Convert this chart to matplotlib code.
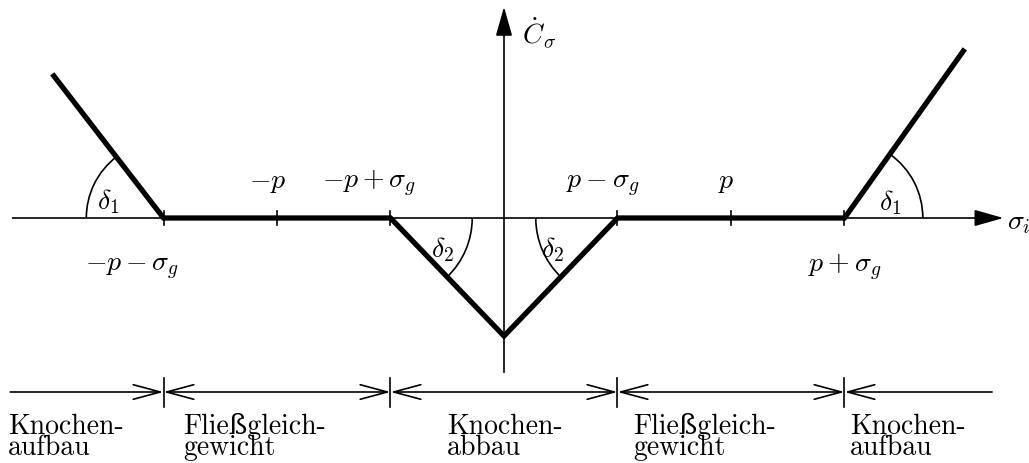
import numpy as np
import matplotlib.pyplot as plt
from matplotlib.patches import Arc

plt.rcParams['mathtext.fontset'] = 'cm'

# model parameters (in plot units)
p = 2.0
sigma_g = 1.0

# piecewise-linear remodelling rate
curve_x = [-3.98, -3.0, -1.0, 0.0, 1.0, 3.0, 4.06]
curve_y = [1.27, 0.0, 0.0, -1.04, 0.0, 0.0, 1.49]

# ticks on the stress axis and their labels
tick_pos = [-p - sigma_g, -p, -p + sigma_g, p - sigma_g, p, p + sigma_g]
tick_labels = [r'$-p-\sigma_g$', r'$-p$', r'$-p+\sigma_g$',
               r'$p-\sigma_g$', r'$p$', r'$p+\sigma_g$']
tick_label_xy = [(-3.28, -0.46), (-2.08, 0.27), (-1.19, 0.27),
                 (0.87, 0.27), (1.96, 0.27), (3.00, -0.47)]

# zones below the diagram
zone_bounds = [-3.0, -1.0, 1.0, 3.0]
zone_line = [-4.35, 4.30]
zone_text = ['Knochen-\naufbau', 'Fließgleich-\ngewicht', 'Knochen-\nabbau',
             'Fließgleich-\ngewicht', 'Knochen-\naufbau']
zone_text_x = [-4.37, -2.83, -0.50, 1.14, 3.05]

scale = 113.5  # pixels per unit
W, H = 1029, 464
x0, y0 = 504, 219

fig = plt.figure(figsize=(W / 100, H / 100), dpi=100)
ax = fig.add_axes([0, 0, 1, 1])
ax.set_xlim(-x0 / scale, (W - x0) / scale)
ax.set_ylim(-(H - y0) / scale, y0 / scale)
ax.axis('off')

fs = 20
lw_thin = 1.2
arrow_kw = dict(arrowstyle='-|>,head_length=0.6,head_width=0.17',
                mutation_scale=30, lw=lw_thin, color='black',
                shrinkA=0, shrinkB=0)

# axes with filled arrowheads
ax.annotate('', xy=(4.40, 0), xytext=(-4.33, 0), arrowprops=arrow_kw)
ax.annotate('', xy=(0, 1.86), xytext=(0, -1.36), arrowprops=arrow_kw)
ax.text(4.43, -0.03, r'$\sigma_i$', fontsize=fs, va='center', ha='left')
ax.text(0.16, 1.64, r'$\dot{C}_\sigma$', fontsize=fs, va='center', ha='left')

# the rate curve
ax.plot(curve_x, curve_y, color='black', lw=3.8, solid_joinstyle='miter',
        solid_capstyle='butt')

# tick marks and labels
for xt in tick_pos:
    ax.plot([xt, xt], [-0.065, 0.065], color='black', lw=lw_thin)
for lab, (lx, ly) in zip(tick_labels, tick_label_xy):
    ax.text(lx, ly, lab, fontsize=fs, ha='center', va='baseline')

# angle arcs
def seg_angle(xa, ya, xb, yb):
    return np.degrees(np.arctan2(yb - ya, xb - xa))

a_left = seg_angle(curve_x[1], curve_y[1], curve_x[0], curve_y[0])
a_right = seg_angle(curve_x[5], curve_y[5], curve_x[6], curve_y[6])
a_v1 = seg_angle(curve_x[2], curve_y[2], curve_x[3], curve_y[3])
a_v2 = seg_angle(curve_x[4], curve_y[4], curve_x[3], curve_y[3])

arcs = [((curve_x[1], 0), 0.68, a_left, 180),
        ((curve_x[5], 0), 0.69, 0, a_right),
        ((curve_x[2], 0), 0.72, a_v1, 0),
        ((curve_x[4], 0), 0.72, 180, a_v2 + 360)]
for c, r, t1, t2 in arcs:
    ax.add_patch(Arc(c, 2 * r, 2 * r, theta1=t1, theta2=t2,
                     color='black', lw=lw_thin))

for lab, (lx, ly) in [(r'$\delta_1$', (-3.49, 0.15)), (r'$\delta_1$', (3.40, 0.14)),
                      (r'$\delta_2$', (-0.54, -0.27)), (r'$\delta_2$', (0.43, -0.27))]:
    ax.text(lx, ly, lab, fontsize=fs, ha='center', va='center')

# zone bar with open arrowheads
zy = -1.533
open_kw = dict(mutation_scale=15, lw=lw_thin, color='black', shrinkA=0, shrinkB=0)
edges = [zone_line[0]] + zone_bounds + [zone_line[1]]
for i in range(len(edges) - 1):
    xa, xb = edges[i], edges[i + 1]
    if i == 0:
        style = '->,head_length=1.3,head_width=0.35'
    elif i == len(edges) - 2:
        style = '<-,head_length=1.3,head_width=0.35'
    else:
        style = '<->,head_length=1.3,head_width=0.35'
    ax.annotate('', xy=(xb, zy), xytext=(xa, zy),
                arrowprops=dict(arrowstyle=style, **open_kw))
for xb in zone_bounds:
    ax.plot([xb, xb], [zy - 0.13, zy + 0.12], color='black', lw=lw_thin)

txt_font = ['cmr10', 'DejaVu Serif']
for lab, tx in zip(zone_text, zone_text_x):
    ax.text(tx, -2.08, lab, fontsize=fs, family=txt_font, ha='left',
            va='baseline', linespacing=0.72, multialignment='left')

fig.savefig('out.png', dpi=100)
